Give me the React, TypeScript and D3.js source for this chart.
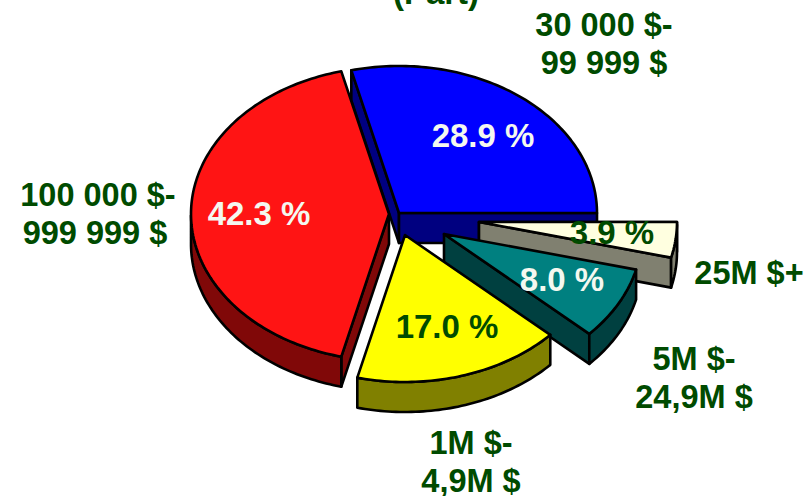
import React from "react";
import * as d3 from "d3";

const categories = ["25M $+", "5M $-\n24,9M $", "1M $-\n4,9M $", "100 000 $-\n999 999 $", "30 000 $-\n99 999 $"];
const percents = [3.9, 8.0, 17.0, 42.3, 28.9];
const title = "(Part)";

const topColors = ["#FFFFE0", "#008080", "#FFFF00", "#FF1414", "#0000FF"];
const sideColors = ["#808070", "#004040", "#808000", "#800808", "#000080"];
const valueColors = ["#004B00", "#F4F8F0", "#004B00", "#F4F8F0", "#F4F8F0"];

const RX = 198, RY = 147, DEPTH = 30;
const textGreen = "#004B00";
const apexes: [number, number][] = [[479, 222], [444, 234], [405, 235], [389, 214], [399, 213]];
const valuePos: [number, number][] = [[612, 244], [562, 291], [447, 338], [259, 225], [483, 147]];
const labelPos: [number, number][] = [[749, 284], [694, 370], [471, 454], [98, 206], [604, 36]];
const secondLineShift = [0, 0, 0, -3, 0];
const drawOrder = [4, 0, 1, 2, 3];

const pieGen = d3.pie<number>().sort(null).startAngle(Math.PI / 2).endAngle(Math.PI * 2.5);
const slices = pieGen(percents);
const line = d3.line();

export default function App() {
  return (
    <svg width={810} height={496} style={{ position: "absolute", left: 0, top: 0, background: "#fff" }}
      fontFamily="'Liberation Sans', Arial, sans-serif" fontWeight="bold">
      {drawOrder.map((i) => {
        const s = slices[i];
        const [cx, cy] = apexes[i];
        const pt = (a: number, dy = 0): [number, number] => [cx + RX * Math.sin(a), cy - RY * Math.cos(a) + dy];
        const n = Math.max(8, Math.ceil((s.endAngle - s.startAngle) / 0.02));
        const angles = d3.range(n + 1).map((k) => s.startAngle + ((s.endAngle - s.startAngle) * k) / n);
        const arcPts = angles.map((a) => pt(a));
        const top: [number, number][] = [[cx, cy], ...arcPts];
        const base = (p: [number, number]): [number, number] => [p[0], p[1] + DEPTH];
        // outer wall: the part of the rim facing the viewer
        const front = angles.filter((a) => Math.cos(a) <= 0);
        const rim = front.map((a) => pt(a));
        const rimWall: [number, number][] = [...rim, ...rim.map(base).reverse()];
        const p0 = pt(s.startAngle), p1 = pt(s.endAngle);
        const walls: [number, number][][] = [];
        // a radial wall shows when the drop runs outside the slice
        const startVisible = Math.sin(s.startAngle) < 0 || Math.abs(Math.sin(s.startAngle) - 1) < 1e-6;
        const endVisible = Math.sin(s.endAngle) > 0;
        if (startVisible) walls.push([[cx, cy], p0, base(p0), [cx, cy + DEPTH]]);
        if (endVisible) walls.push([[cx, cy], p1, base(p1), [cx, cy + DEPTH]]);
        const commonProps = { stroke: "#000", strokeWidth: 2.6, strokeLinejoin: "round" as const };
        return (
          <g key={i}>
            {walls.map((w, k) => (
              <path key={k} d={line(w) + "Z"} fill={sideColors[i]} {...commonProps} />
            ))}
            {rim.length > 1 && <path d={line(rimWall) + "Z"} fill={sideColors[i]} {...commonProps} />}
            <path d={line(top) + "Z"} fill={topColors[i]} {...commonProps} />
          </g>
        );
      })}
      {percents.map((v, i) => (
        <text key={i} x={valuePos[i][0]} y={valuePos[i][1]} textAnchor="middle" fontSize={33} fill={valueColors[i]}>
          {v.toFixed(1)} %
        </text>
      ))}
      {categories.map((c, i) =>
        c.split("\n").map((t, k) => (
          <text key={i + "-" + k} x={labelPos[i][0] + (k ? secondLineShift[i] : 0)} y={labelPos[i][1] + k * 38} textAnchor="middle" fontSize={32.5} fill={textGreen}>
            {t}
          </text>
        ))
      )}
      <text x={436} y={4} textAnchor="middle" fontSize={33} fill={textGreen}>{title}</text>
    </svg>
  );
}
